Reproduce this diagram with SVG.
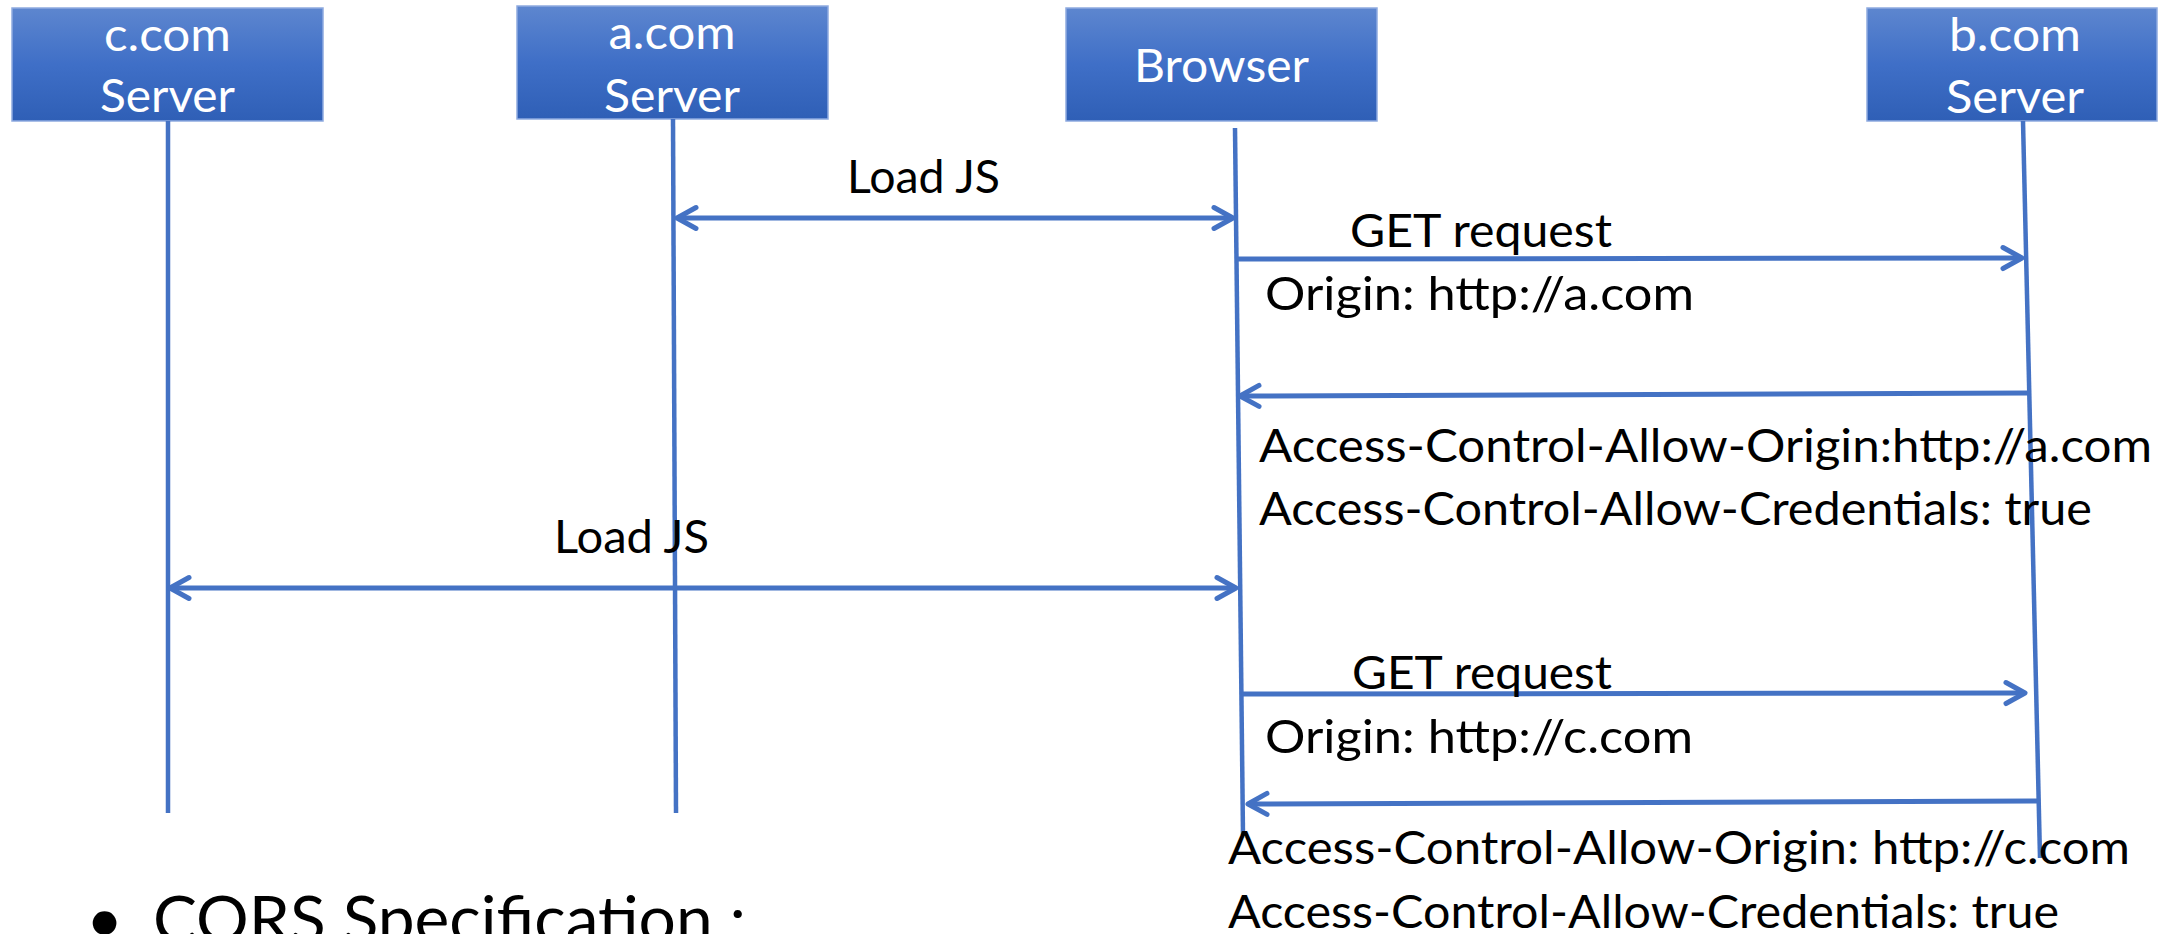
<svg xmlns="http://www.w3.org/2000/svg" width="2172" height="934" viewBox="0 0 2172 934">
<style>
.box{fill:url(#g);stroke:#8eaae0;stroke-width:1.5}
.bt{font-family:Lato,"Open Sans","Liberation Sans",sans-serif;font-size:46px;fill:#fff;text-anchor:middle}
.t{font-family:Lato,"Open Sans","Liberation Sans",sans-serif;font-size:46px;fill:#000}
.life{stroke:#4472C4;stroke-width:4.5;fill:none}
.msg{stroke:#4472C4;stroke-width:5;fill:none;marker-end:url(#ah)}
.both{marker-start:url(#ah)}
</style>
<defs>
<linearGradient id="g" x1="0" y1="0" x2="0" y2="1">
<stop offset="0" stop-color="#5d86cf"/>
<stop offset="0.5" stop-color="#3f6fc7"/>
<stop offset="1" stop-color="#2f5fb6"/>
</linearGradient>
<marker id="ah" markerUnits="userSpaceOnUse" viewBox="-24 -14 28 28" markerWidth="28" markerHeight="28" refX="0" refY="0" orient="auto-start-reverse" overflow="visible">
<path d="M-19,-10.5 L0,0 L-19,10.5" fill="none" stroke="#4472C4" stroke-width="5" stroke-linecap="round" stroke-linejoin="round"/>
</marker>
</defs>
<rect width="2172" height="934" fill="#fff"/>

<g id="node-ccom">
<rect class="box" x="12" y="8" width="311" height="113"/>
<text class="bt" x="167.5" y="51" textLength="127" lengthAdjust="spacingAndGlyphs">c.com</text>
<text class="bt" x="167.5" y="112" textLength="135" lengthAdjust="spacingAndGlyphs">Server</text>
</g>
<g id="node-acom">
<rect class="box" x="517" y="6" width="311" height="113"/>
<text class="bt" x="672" y="49" textLength="127" lengthAdjust="spacingAndGlyphs">a.com</text>
<text class="bt" x="672" y="112" textLength="136" lengthAdjust="spacingAndGlyphs">Server</text>
</g>
<g id="node-browser">
<rect class="box" x="1066" y="8" width="311" height="113"/>
<text class="bt" x="1221.5" y="82" textLength="175" lengthAdjust="spacingAndGlyphs">Browser</text>
</g>
<g id="node-bcom">
<rect class="box" x="1867" y="8" width="290" height="113"/>
<text class="bt" x="2015" y="51" textLength="132" lengthAdjust="spacingAndGlyphs">b.com</text>
<text class="bt" x="2015" y="113" textLength="138" lengthAdjust="spacingAndGlyphs">Server</text>
</g>

<g id="connectors">
<line class="life" x1="168" y1="121" x2="168" y2="813"/>
<line class="life" x1="673" y1="119" x2="676" y2="813"/>
<line class="life" x1="1235" y1="128" x2="1243" y2="835"/>
<line class="life" x1="2023" y1="121" x2="2040" y2="858"/>

<line class="msg both" x1="677" y1="218" x2="1233" y2="218"/>
<line class="msg" x1="1237" y1="259" x2="2022" y2="258"/>
<line class="msg" x1="2029" y1="393" x2="1240" y2="396"/>
<line class="msg both" x1="170" y1="588" x2="1236" y2="588"/>
<line class="msg" x1="1242" y1="694" x2="2025" y2="693"/>
<line class="msg" x1="2038" y1="801" x2="1248" y2="804"/>
</g>

<g id="labels">
<text class="t" x="847" y="193" textLength="153" lengthAdjust="spacingAndGlyphs">Load JS</text>
<text class="t" x="1350" y="247" textLength="262" lengthAdjust="spacingAndGlyphs">GET request</text>
<text class="t" x="1265" y="310" textLength="429" lengthAdjust="spacingAndGlyphs">Origin: http://a.com</text>
<text class="t" x="1259" y="462" textLength="893" lengthAdjust="spacingAndGlyphs">Access-Control-Allow-Origin:http://a.com</text>
<text class="t" x="1259" y="525" textLength="833" lengthAdjust="spacingAndGlyphs">Access-Control-Allow-Credentials: true</text>
<text class="t" x="554" y="553" textLength="155" lengthAdjust="spacingAndGlyphs">Load JS</text>
<text class="t" x="1352" y="689" textLength="260" lengthAdjust="spacingAndGlyphs">GET request</text>
<text class="t" x="1265" y="753" textLength="428" lengthAdjust="spacingAndGlyphs">Origin: http://c.com</text>
<text class="t" x="1228" y="864" textLength="902" lengthAdjust="spacingAndGlyphs">Access-Control-Allow-Origin: http://c.com</text>
<text class="t" x="1228" y="928" textLength="831" lengthAdjust="spacingAndGlyphs">Access-Control-Allow-Credentials: true</text>
<text class="t" style="font-size:64px" y="942"><tspan x="86">•</tspan><tspan x="153" textLength="593" lengthAdjust="spacingAndGlyphs">CORS Specification :</tspan></text>
</g>
</svg>
